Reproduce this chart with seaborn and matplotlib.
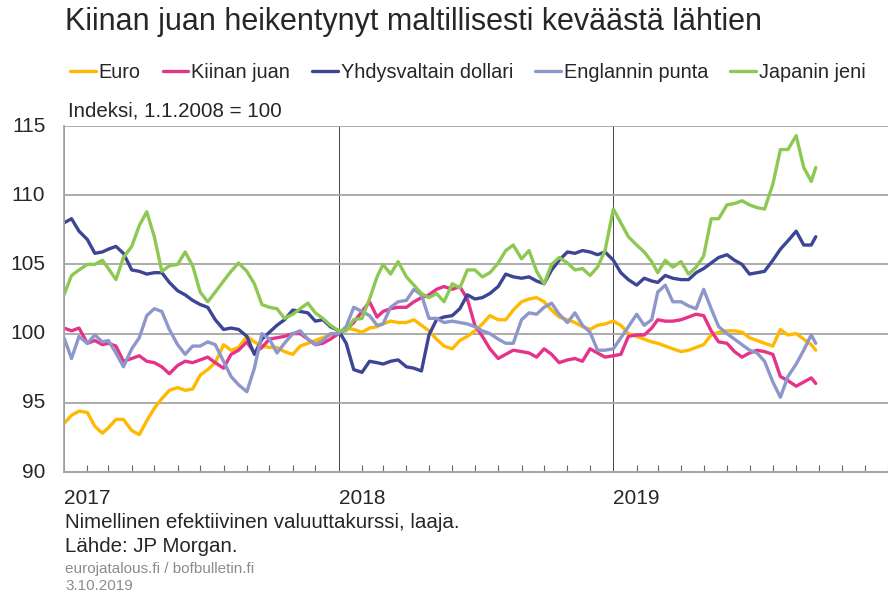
import matplotlib
matplotlib.use("Agg")
import matplotlib.pyplot as plt
import matplotlib.dates as mdates
from matplotlib import font_manager
import seaborn as sns
import pandas as pd

# ---- data (index, roughly every 10 days) ----
series_names = ["Euro", "Kiinan juan", "Yhdysvaltain dollari",
                "Englannin punta", "Japanin jeni"]
colors = ["#FFB900", "#E6338A", "#3C4596", "#8E97CA", "#8DC952"]
year_ticks = [pd.Timestamp(2017, 1, 1), pd.Timestamp(2018, 1, 1), pd.Timestamp(2019, 1, 1)]

# dates: 1st, 11th, 21st of each month, last obs 27.9.2019
dates = [pd.Timestamp(y, m, d) for y in (2017, 2018, 2019)
         for m in range(1, 13) for d in (1, 11, 21)
         if not (y == 2019 and m > 9)]
dates.append(pd.Timestamp(2019, 9, 27))

eur = [93.5, 94.1, 94.4, 94.3, 93.3, 92.8, 93.2, 93.8, 93.8, 93.0, 92.7, 93.7,
       94.6, 95.3, 95.9, 96.1, 95.9, 96.0, 97.0, 97.4, 97.9, 99.2, 98.8, 99.0,
       99.8, 99.4, 99.1, 99.0, 99.0, 98.7, 98.5, 99.1, 99.3, 99.5, 99.7, 99.9,
       100.0, 100.4, 100.3, 100.1, 100.4, 100.5, 100.7, 100.9, 100.8, 100.8, 101.0, 100.6,
       100.2, 99.6, 99.1, 98.9, 99.5, 99.8, 100.2, 100.7, 101.3, 101.0, 101.0, 101.7,
       102.3, 102.5, 102.6, 102.3, 101.7, 101.2, 101.0, 100.8, 100.5, 100.3, 100.6, 100.7,
       100.9, 100.6, 100.0, 99.8, 99.6, 99.4, 99.3, 99.1, 98.9, 98.7, 98.8, 99.0,
       99.2, 99.9, 100.1, 100.2, 100.2, 100.1, 99.7, 99.5, 99.3, 99.1, 100.3, 99.9,
       100.0, 99.6, 99.2, 98.8]

cny = [100.4, 100.2, 100.4, 99.3, 99.5, 99.2, 99.3, 99.1, 98.0, 98.2, 98.4, 98.0,
       97.9, 97.6, 97.1, 97.7, 98.0, 97.9, 98.1, 98.3, 97.9, 97.5, 98.5, 98.8,
       99.4, 98.6, 99.0, 99.6, 99.7, 99.8, 100.0, 100.0, 99.6, 99.2, 99.3, 99.6,
       100.0, 100.3, 100.8, 101.6, 102.3, 101.2, 101.6, 101.8, 101.9, 101.9, 102.3, 102.6,
       102.8, 103.2, 103.4, 103.2, 103.4, 102.5, 100.6, 99.8, 98.9, 98.2, 98.5, 98.8,
       98.7, 98.6, 98.3, 98.9, 98.5, 97.9, 98.1, 98.2, 98.0, 98.9, 98.6, 98.3,
       98.4, 98.5, 99.8, 99.9, 99.9, 100.4, 101.0, 100.9, 100.9, 101.0, 101.2, 101.4,
       101.3, 100.2, 99.4, 99.3, 98.7, 98.3, 98.6, 98.8, 98.7, 98.5, 96.9, 96.6,
       96.2, 96.5, 96.8, 96.4]

usd = [108.0, 108.3, 107.4, 106.8, 105.8, 105.9, 106.1, 106.3, 105.8, 104.6, 104.5, 104.3,
       104.4, 104.4, 103.7, 103.1, 102.8, 102.4, 102.1, 101.9, 101.0, 100.3, 100.4, 100.3,
       99.8, 98.5, 99.6, 100.1, 100.6, 101.0, 101.7, 101.6, 101.5, 100.9, 101.0, 100.5,
       100.2, 99.3, 97.4, 97.2, 98.0, 97.9, 97.8, 98.0, 98.1, 97.6, 97.5, 97.3,
       99.9, 101.0, 101.2, 101.3, 101.8, 102.8, 102.5, 102.6, 102.9, 103.4, 104.3, 104.1,
       104.0, 104.1, 103.8, 103.6, 104.6, 105.3, 105.9, 105.8, 106.0, 105.9, 105.7, 105.9,
       105.3, 104.4, 103.9, 103.5, 104.0, 103.8, 103.7, 104.2, 104.0, 103.9, 103.9, 104.4,
       104.7, 105.1, 105.5, 105.7, 105.3, 105.0, 104.3, 104.4, 104.5, 105.3, 106.1, 106.7,
       107.4, 106.4, 106.4, 107.0]

gbp = [99.7, 98.2, 99.8, 99.3, 99.9, 99.4, 99.5, 98.6, 97.6, 98.9, 99.7, 101.3,
       101.8, 101.6, 100.3, 99.2, 98.5, 99.1, 99.1, 99.4, 99.2, 98.0, 96.9, 96.3,
       95.8, 97.5, 100.0, 99.6, 98.6, 99.3, 100.0, 100.2, 99.6, 99.2, 99.5, 100.0,
       100.0, 100.5, 101.9, 101.6, 101.3, 100.6, 100.7, 101.9, 102.3, 102.4, 103.2, 102.8,
       101.1, 101.1, 100.8, 100.9, 100.8, 100.7, 100.5, 100.2, 100.0, 99.6, 99.3, 99.3,
       101.0, 101.5, 101.4, 101.9, 102.2, 101.4, 100.8, 101.5, 100.6, 100.1, 98.8, 98.8,
       98.9, 99.7, 100.5, 101.4, 100.6, 101.0, 103.0, 103.5, 102.3, 102.3, 102.0, 101.8,
       103.2, 101.8, 100.5, 100.0, 99.6, 99.2, 98.8, 98.6, 98.0, 96.5, 95.4, 96.9,
       97.8, 98.8, 99.9, 99.3]

jpy = [102.8, 104.2, 104.6, 105.0, 105.0, 105.3, 104.7, 103.9, 105.5, 106.3, 107.8, 108.8,
       107.0, 104.5, 104.9, 105.0, 105.9, 104.9, 103.0, 102.3, 103.0, 103.8, 104.5, 105.1,
       104.5, 103.6, 102.1, 101.9, 101.8, 101.1, 101.4, 101.8, 102.2, 101.5, 101.1, 100.6,
       100.2, 100.2, 101.0, 101.1, 102.5, 104.1, 105.0, 104.3, 105.2, 104.1, 103.5, 102.9,
       102.6, 102.9, 102.3, 103.6, 103.3, 104.6, 104.6, 104.1, 104.4, 105.1, 106.0, 106.4,
       105.4, 106.0, 104.5, 103.6, 105.0, 105.5, 105.1, 104.6, 104.7, 104.2, 104.8, 106.0,
       109.0, 108.0, 107.0, 106.4, 105.9, 105.2, 104.4, 105.3, 104.8, 105.2, 104.3, 104.8,
       105.6, 108.3, 108.3, 109.3, 109.4, 109.6, 109.3, 109.1, 109.0, 110.8, 113.3, 113.3,
       114.3, 112.0, 111.0, 112.0]

df = pd.concat([
    pd.DataFrame({"date": dates, "value": vals, "series": name})
    for name, vals in zip(series_names, [eur, cny, usd, gbp, jpy])
])

# ---- style ----
sns.set_theme(style="white")
installed = {f.name for f in font_manager.fontManager.ttflist}
narrow = "Liberation Sans Narrow" if "Liberation Sans Narrow" in installed else "Liberation Sans"
plt.rcParams["font.family"] = [narrow, "DejaVu Sans"]

fig = plt.figure(figsize=(8.88, 5.96), dpi=100)
ax = fig.add_axes([64 / 888, 1 - 472 / 596, 1 - 64 / 888, 346 / 596])

sns.lineplot(data=df, x="date", y="value", hue="series", hue_order=series_names,
             palette=colors, linewidth=2.4, ax=ax)

ax.set_xlim(pd.Timestamp(2017, 1, 1), pd.Timestamp(2020, 1, 1))
ax.set_ylim(90, 115)
ax.set_yticks([90, 95, 100, 105, 110, 115])
ax.set_xlabel("")
ax.set_ylabel("")

ax.yaxis.grid(True, color="#A6A6A6", linewidth=1.3)
ax.set_xticks(year_ticks)
ax.xaxis.set_major_formatter(mdates.DateFormatter("%Y"))
ax.xaxis.set_minor_locator(mdates.MonthLocator())
ax.xaxis.grid(True, which="major", color="#444444", linewidth=0.7)
ax.tick_params(axis="x", which="major", length=0, labelsize=15, pad=12)
ax.tick_params(axis="x", which="minor", direction="in", length=5,
               width=0.8, color="#666666", bottom=True)
ax.tick_params(axis="y", length=0, labelsize=15, pad=13.5)
for lbl in ax.get_xticklabels():
    lbl.set_horizontalalignment("left")
for lbl in ax.get_yticklabels():
    lbl.set_verticalalignment("center")

for side in ("top", "right"):
    ax.spines[side].set_visible(False)
ax.spines["left"].set_color("#A6A6A6")
ax.spines["left"].set_linewidth(1.3)
ax.spines["bottom"].set_color("#A6A6A6")
ax.spines["bottom"].set_linewidth(1.5)

sns.move_legend(ax, "center left", bbox_to_anchor=(70 / 888, 1 - 72 / 596),
                bbox_transform=fig.transFigure, ncol=5, frameon=False, title=None,
                fontsize=14.3, handlelength=1.3, handletextpad=0.15,
                columnspacing=1.1, borderaxespad=0, borderpad=0)

# ---- texts ----
fig.text(65 / 888, 1 - 22 / 596, "Kiinan juan heikentynyt maltillisesti keväästä lähtien",
         fontsize=22, va="center", ha="left")
fig.text(68 / 888, 1 - 111 / 596, "Indeksi, 1.1.2008 = 100",
         fontsize=14.8, va="center", ha="left")
fig.text(65 / 888, 1 - 523 / 596, "Nimellinen efektiivinen valuuttakurssi, laaja.",
         fontsize=14.8, va="center", ha="left")
fig.text(65 / 888, 1 - 547 / 596, "Lähde: JP Morgan.",
         fontsize=14.8, va="center", ha="left")
fig.text(65 / 888, 1 - 569 / 596, "eurojatalous.fi / bofbulletin.fi",
         fontsize=11, va="center", ha="left", color="#8C8C8C")
fig.text(65 / 888, 1 - 586 / 596, "3.10.2019",
         fontsize=11, va="center", ha="left", color="#8C8C8C")

fig.savefig("out.png", dpi=100)
